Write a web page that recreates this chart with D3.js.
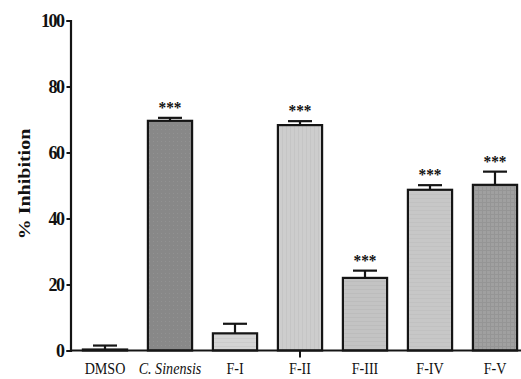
<!DOCTYPE html>
<html>
<head>
<meta charset="utf-8">
<script src="https://cdn.jsdelivr.net/npm/d3@7"></script>
<style>
  html, body { margin: 0; padding: 0; background: #fff; }
  svg { display: block; }
  text { font-family: "Liberation Serif", "Times New Roman", serif; fill: #111; }
</style>
</head>
<body>
<svg id="chart" width="521" height="379"></svg>
<script>
// Groups, means and SEM (% inhibition)
const categories = ["DMSO", "C. Sinensis", "F-I", "F-II", "F-III", "F-IV", "F-V"];
const means      = [0.3, 69.6, 5.2, 68.3, 22.0, 48.7, 50.2];
const sems       = [1.2, 0.9, 2.9, 1.2, 2.2, 1.4, 4.0];
const signif     = ["", "***", "", "***", "***", "***", "***"];
const yTicks     = [0, 20, 40, 60, 80, 100];
const fills      = ["#c8c8c8", "#888888", "#d4d4d4", "#cdcdcd", "#c3c3c3", "#c7c7c7", "#a0a0a0"];

const svg = d3.select("#chart");
const defs = svg.append("defs");

// Subtle texture patterns for the bars
function pattern(id, bg, draw) {
  const p = defs.append("pattern").attr("id", id)
    .attr("patternUnits", "userSpaceOnUse").attr("width", 4).attr("height", 4);
  p.append("rect").attr("width", 4).attr("height", 4).attr("fill", bg);
  draw(p);
}
pattern("p0", fills[0], p => {});
pattern("p1", fills[1], p => p.append("rect").attr("x", 1).attr("y", 1).attr("width", 1).attr("height", 1).attr("fill", "#929292"));
pattern("p2", fills[2], p => p.append("rect").attr("y", 2).attr("width", 4).attr("height", 1).attr("fill", "#cbcbcb"));
pattern("p3", fills[3], p => p.append("rect").attr("x", 2).attr("width", 1).attr("height", 4).attr("fill", "#c5c5c5"));
pattern("p4", fills[4], p => p.append("rect").attr("y", 1).attr("width", 4).attr("height", 1).attr("fill", "#bcbcbc"));
pattern("p5", fills[5], p => p.append("rect").attr("y", 2).attr("width", 4).attr("height", 1).attr("fill", "#c1c1c1"));
pattern("p6", fills[6], p => {
  p.append("rect").attr("y", 2).attr("width", 4).attr("height", 1).attr("fill", "#959595");
  p.append("rect").attr("x", 2).attr("width", 1).attr("height", 4).attr("fill", "#959595");
});

const x = d3.scaleBand().domain(categories)
  .range([72.5, 527.5]).paddingInner(0.32).paddingOuter(0.16);
const y = d3.scaleLinear().domain([0, 100]).range([350.5, 20.5]);

// Bars
svg.append("g").selectAll("rect").data(categories).join("rect")
  .attr("x", d => x(d))
  .attr("width", x.bandwidth())
  .attr("y", (d, i) => y(means[i]))
  .attr("height", (d, i) => y(0) - y(means[i]))
  .attr("fill", (d, i) => `url(#p${i})`)
  .attr("stroke", "#151515").attr("stroke-width", 2.2);

// Error bars (upper half)
const capW = 24;
const eb = svg.append("g").attr("stroke", "#151515").attr("stroke-width", 2.2);
categories.forEach((c, i) => {
  const cx = x(c) + x.bandwidth() / 2;
  const top = y(means[i] + sems[i]);
  eb.append("line").attr("x1", cx).attr("x2", cx).attr("y1", y(means[i])).attr("y2", top);
  eb.append("line").attr("x1", cx - capW / 2).attr("x2", cx + capW / 2).attr("y1", top).attr("y2", top);
});

// Significance markers
svg.append("g").selectAll("text").data(categories).join("text")
  .attr("text-anchor", "middle")
  .attr("transform", (d, i) => `translate(${x(d) + x.bandwidth() / 2},${y(means[i] + sems[i]) - 5}) scale(0.9,1)`)
  .attr("font-size", 17).attr("font-weight", "bold").attr("fill", "#444")
  .text((d, i) => signif[i]);

// Y axis
const yAxis = svg.append("g").attr("transform", "translate(70.5,0)")
  .call(d3.axisLeft(y).tickValues(yTicks).tickSize(4).tickPadding(3));
yAxis.select(".domain").attr("stroke", "#151515").attr("stroke-width", 2.2);
yAxis.selectAll(".tick line").attr("stroke", "#151515").attr("stroke-width", 2);
yAxis.selectAll(".tick text")
  .attr("font-family", "Liberation Serif, serif").attr("font-size", 18).attr("font-weight", "bold")
  .attr("fill", "#111").attr("letter-spacing", -1.5).attr("dy", "0.34em");

// X axis baseline
svg.append("line").attr("x1", 70).attr("x2", 521).attr("y1", y(0)).attr("y2", y(0))
  .attr("stroke", "#151515").attr("stroke-width", 2.2);
svg.append("line")
  .attr("x1", x("F-II") + x.bandwidth() / 2).attr("x2", x("F-II") + x.bandwidth() / 2)
  .attr("y1", y(0)).attr("y2", y(0) + 7)
  .attr("stroke", "#151515").attr("stroke-width", 2);

// Category labels
svg.append("g").selectAll("text").data(categories).join("text")
  .attr("text-anchor", "middle")
  .attr("transform", d => `translate(${x(d) + x.bandwidth() / 2},374) scale(0.83,1)`)
  .attr("font-size", 17)
  .attr("font-style", d => d === "C. Sinensis" ? "italic" : "normal")
  .text(d => d);

// Y axis title
svg.append("text")
  .attr("text-anchor", "middle")
  .attr("transform", "translate(30,184) scale(0.88,1) rotate(-90)")
  .attr("font-size", 20).attr("font-weight", "bold")
  .text("% Inhibition");
</script>
</body>
</html>
